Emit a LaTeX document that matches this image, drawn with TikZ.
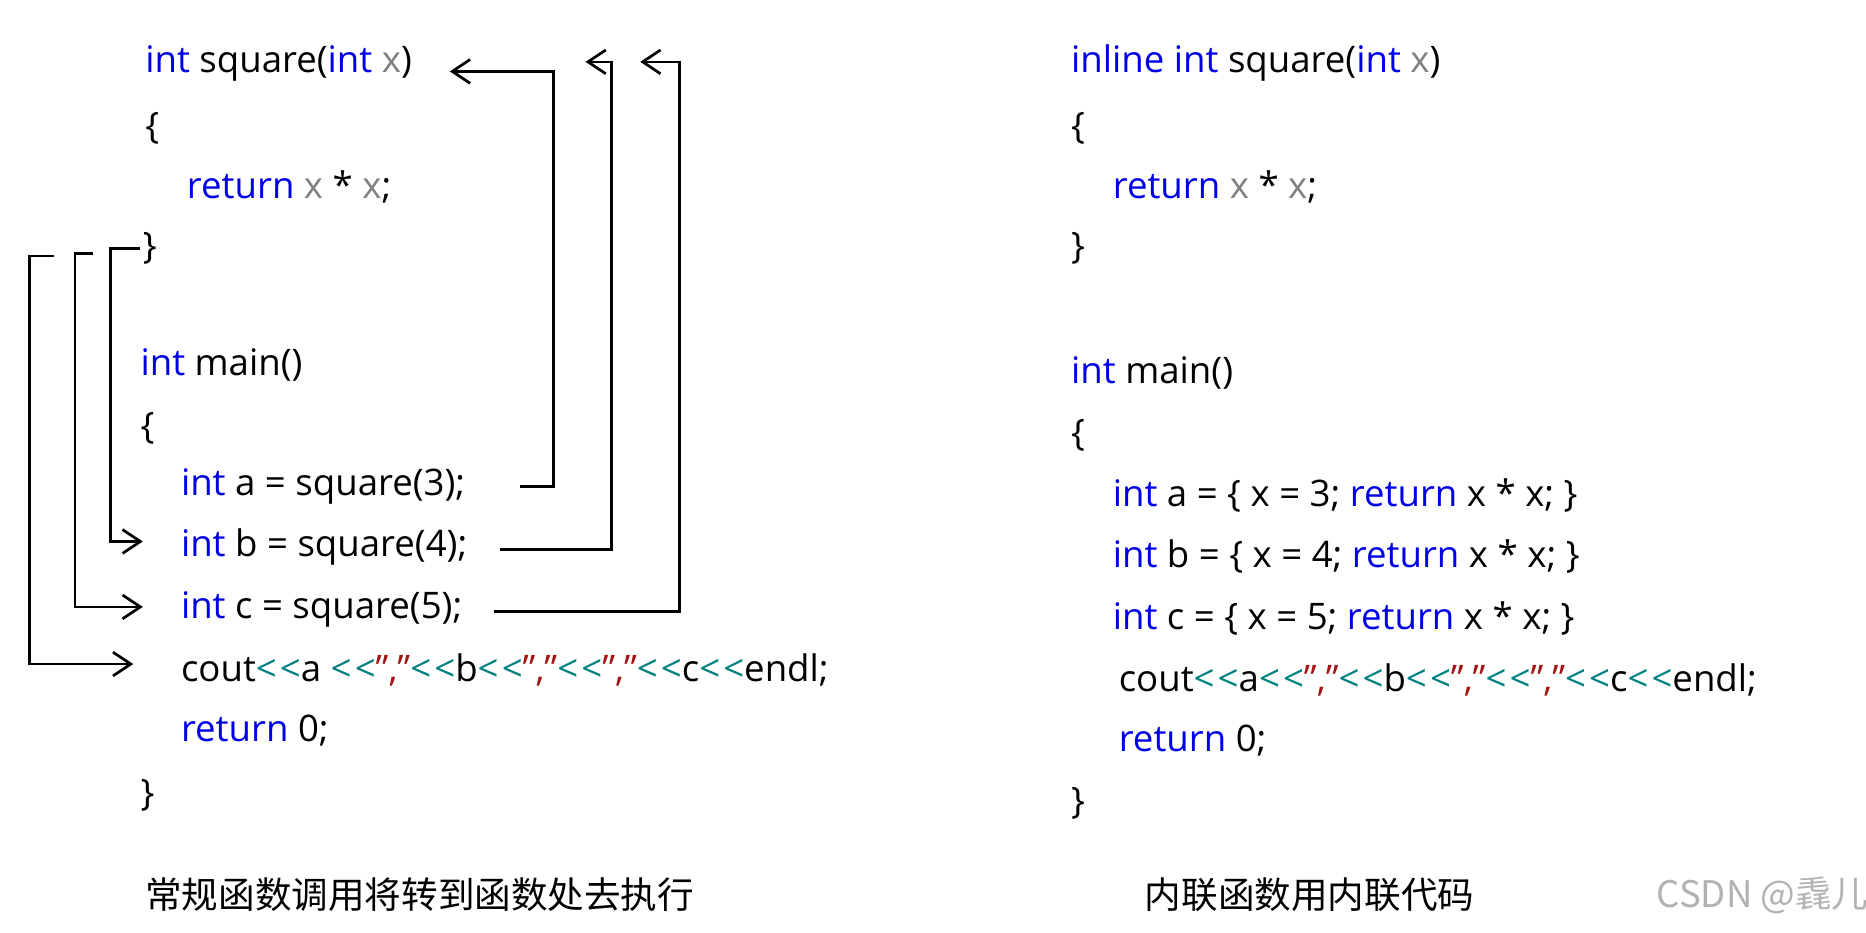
\documentclass[tikz,border=0pt]{standalone}
\usepackage{fontspec}
\setmainfont{Open Sans}
\newfontfamily\cjk{Noto Sans CJK SC}
\usetikzlibrary{arrows.meta}
\definecolor{kw}{RGB}{0,0,230}
\definecolor{var}{RGB}{128,128,128}
\definecolor{op}{RGB}{0,128,128}
\definecolor{str}{RGB}{163,21,21}
\newcommand{\kw}[1]{\textcolor{kw}{#1}}
\newcommand{\vr}[1]{\textcolor{var}{#1}}
\newcommand{\op}{\textcolor{op}{<\kern1.5pt<}}
\newcommand{\st}{\textcolor{str}{\char"22,\char"22}}
\begin{document}
\begin{tikzpicture}[x=0.02cm, y=-0.02cm,
    code/.style = {anchor=west, inner sep=1pt, font=\fontsize{17.5}{21}\selectfont},
    caption/.style = {anchor=west, inner sep=1pt, font=\cjk\fontsize{17.5}{21}\selectfont},
    jump/.style = {line width=1.3pt, -{Straight Barb[length=3mm, width=4mm]}}]
    \useasboundingbox (0,0) rectangle (1568,784);

    % regular call
    \node[code] (sq) at (120,53) {\kw{int} square(\kw{int} \vr{x})};
    \node[code] (l1) at (120,108) {\{};
    \node[code] (l2) at (155,157) {\kw{return} \vr{x} * \vr{x};};
    \node[code] (l3) at (118,209) {\}};
    \node[code] (mn) at (116,307) {\kw{int} main()};
    \node[code] (l5) at (116,360) {\{};
    \node[code] (ia) at (150,409) {\kw{int} a = square(3);};
    \node[code] (ib) at (150,460) {\kw{int} b = square(4);};
    \node[code] (ic) at (150,512) {\kw{int} c = square(5);};
    \node[code] (co) at (150,563) {cout\op a \op\st\op b\op\st\op\st\op c\op endl;};
    \node[code] (rt) at (150,614) {\kw{return} 0;};
    \node[code] (l8) at (116,668) {\}};

    \coordinate (ta) at (378,60);
    \coordinate (tb) at (492,52);
    \coordinate (tc) at (538,52);
    \draw[jump] (437,409) -- (465,409) -- (465,60) -- (ta);
    \draw[jump] (420,462) -- (514,462) -- (514,52) -- (tb);
    \draw[jump] (415,514) -- (571,514) -- (571,52) -- (tc);

    \coordinate (ra) at (93,209);
    \coordinate (rb) at (63,213);
    \coordinate (rc) at (25,215);
    \draw[jump] (l3.west) -- (ra) -- (93,455) -- (120,455);
    \draw[jump] (78,213) -- (rb) -- (63,510) -- (120,510);
    \draw[jump] (45,215) -- (rc) -- (25,558) -- (112,558);

    % inline version
    \node[code] (isq) at (898,53) {\kw{inline} \kw{int} square(\kw{int} \vr{x})};
    \node[code] (i1) at (898,108) {\{};
    \node[code] (i2) at (933,157) {\kw{return} \vr{x} * \vr{x};};
    \node[code] (i3) at (898,209) {\}};
    \node[code] (imn) at (898,313) {\kw{int} main()};
    \node[code] (i5) at (898,366) {\{};
    \node[code] (iia) at (933,416) {\kw{int} a = \{ x = 3; \kw{return} x * x; \}};
    \node[code] (iib) at (933,468) {\kw{int} b = \{ x = 4; \kw{return} x * x; \}};
    \node[code] (iic) at (933,520) {\kw{int} c = \{ x = 5; \kw{return} x * x; \}};
    \node[code] (ico) at (938,571) {cout\op a\op\st\op b\op\st\op\st\op c\op endl;};
    \node[code] (irt) at (938,622) {\kw{return} 0;};
    \node[code] (i8) at (898,675) {\}};

    % captions
    \node[caption] (cap1) at (120,752) {常规函数调用将转到函数处去执行};
    \node[caption] (cap2) at (960,752) {内联函数用内联代码};
    \node[caption, text=black!30] (wm) at (1390,752) {CSDN @毳儿};
\end{tikzpicture}
\end{document}
